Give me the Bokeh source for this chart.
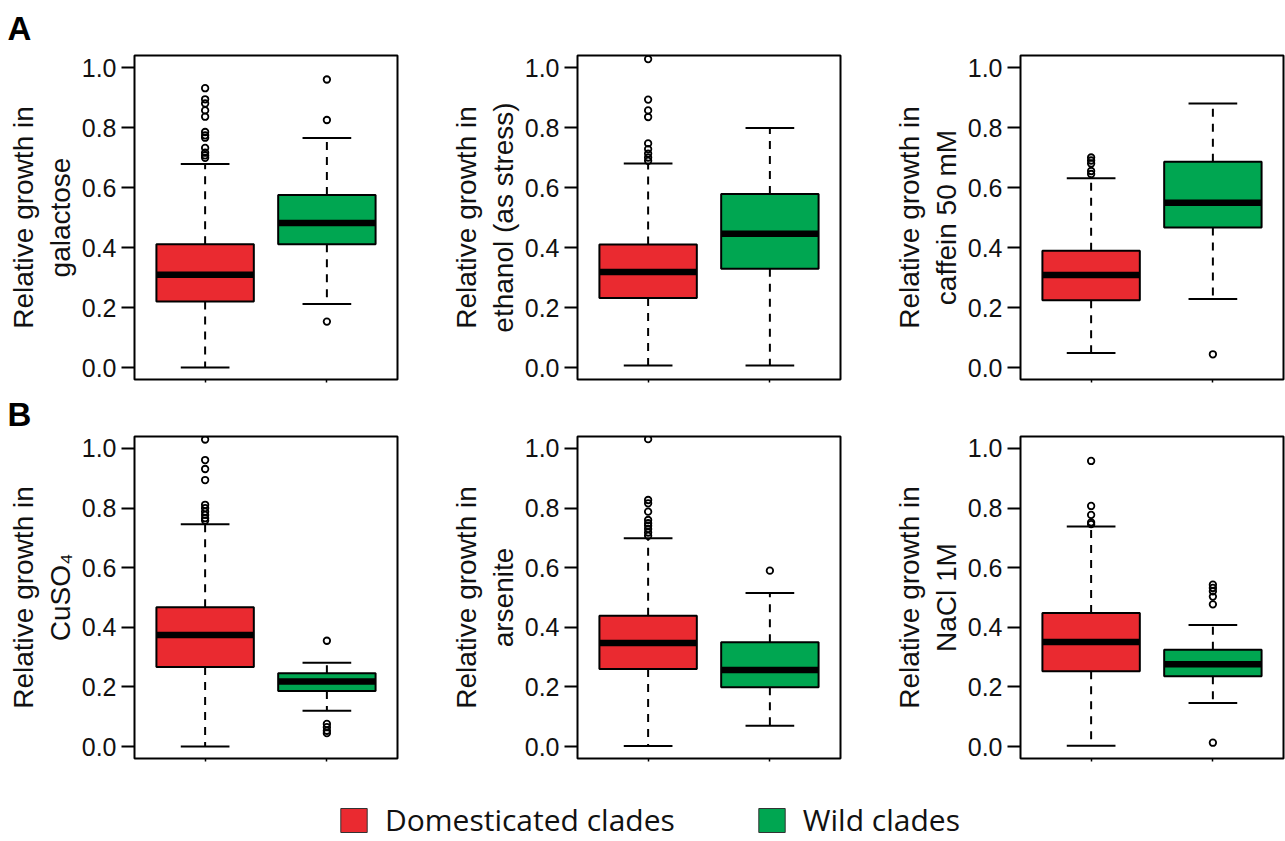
from bokeh.plotting import figure
from bokeh.layouts import column, row
from bokeh.models import (ColumnDataSource, Range1d, FixedTicker, PrintfTickFormatter,
                          Title, Legend, LegendItem)
from bokeh.embed import file_html
from bokeh.resources import INLINE

# ---------------- data ----------------
conditions = ["galactose", "ethanol (as stress)", "caffein 50 mM",
              "CuSO\u2084", "arsenite", "NaCl 1M"]
groups = ["Domesticated clades", "Wild clades"]
y_ticks = [0.0, 0.2, 0.4, 0.6, 0.8, 1.0]

dom_q1 = [0.220, 0.232, 0.224, 0.267, 0.260, 0.253]
dom_median = [0.309, 0.318, 0.308, 0.374, 0.347, 0.351]
dom_q3 = [0.411, 0.410, 0.389, 0.467, 0.439, 0.448]
dom_lower = [0.000, 0.007, 0.048, 0.000, 0.002, 0.003]
dom_upper = [0.678, 0.680, 0.631, 0.746, 0.699, 0.738]
dom_outliers = [
    [0.931, 0.894, 0.880, 0.857, 0.836, 0.785, 0.774, 0.766, 0.732, 0.716, 0.707, 0.699],
    [1.028, 0.893, 0.857, 0.835, 0.747, 0.728, 0.713, 0.700, 0.689],
    [0.700, 0.690, 0.680, 0.655, 0.645],
    [1.030, 0.961, 0.931, 0.894, 0.811, 0.800, 0.788, 0.777, 0.766, 0.758],
    [1.031, 0.827, 0.816, 0.788, 0.760, 0.749, 0.741, 0.730, 0.718, 0.707],
    [0.958, 0.807, 0.777, 0.752, 0.746],
]

wild_q1 = [0.411, 0.329, 0.467, 0.186, 0.199, 0.236]
wild_median = [0.482, 0.446, 0.549, 0.218, 0.257, 0.276]
wild_q3 = [0.575, 0.578, 0.686, 0.246, 0.350, 0.325]
wild_lower = [0.212, 0.007, 0.228, 0.120, 0.070, 0.146]
wild_upper = [0.765, 0.798, 0.880, 0.281, 0.515, 0.408]
wild_outliers = [
    [0.960, 0.825, 0.153],
    [],
    [0.044],
    [0.355, 0.076, 0.065, 0.053, 0.045],
    [0.590],
    [0.543, 0.532, 0.521, 0.503, 0.477, 0.013],
]

# ---------------- styling ----------------
RED = "#EA2A30"
GREEN = "#00A651"
group_colors = [RED, GREEN]
AX_FONT = "Liberation Sans"
FRAME_W = 263
FRAME_H = 324
LEFT_B = 134
BOX_W = 0.8
CAP_W = 0.4


def make_panel(i, width, top_border, letter=None, letter_standoff=10):
    right_b = width - LEFT_B - FRAME_W
    height = top_border + FRAME_H + 15
    p = figure(width=width, height=height,
               x_range=Range1d(0.42, 2.58), y_range=Range1d(-0.04, 1.04),
               output_backend="svg", toolbar_location=None,
               min_border_left=LEFT_B, min_border_right=right_b,
               min_border_top=top_border, min_border_bottom=15)
    p.grid.visible = False
    p.outline_line_color = "black"
    p.outline_line_width = 2
    p.background_fill_color = "white"
    p.border_fill_color = "white"

    xs = [k + 1 for k in range(len(groups))]
    q1 = [dom_q1[i], wild_q1[i]]
    med = [dom_median[i], wild_median[i]]
    q3 = [dom_q3[i], wild_q3[i]]
    lo = [dom_lower[i], wild_lower[i]]
    hi = [dom_upper[i], wild_upper[i]]
    src = ColumnDataSource(dict(
        x=xs, q1=q1, q3=q3, med=med, lo=lo, hi=hi, color=group_colors,
        bl=[x - BOX_W / 2 for x in xs], br=[x + BOX_W / 2 for x in xs],
        cl=[x - CAP_W / 2 for x in xs], cr=[x + CAP_W / 2 for x in xs],
    ))

    # dashed whiskers
    p.segment(x0="x", y0="q3", x1="x", y1="hi", source=src,
              line_color="black", line_width=2, line_dash="8 7")
    p.segment(x0="x", y0="q1", x1="x", y1="lo", source=src,
              line_color="black", line_width=2, line_dash="8 7")
    # boxes
    p.vbar(x="x", width=BOX_W, bottom="q1", top="q3", source=src,
           fill_color="color", line_color="black", line_width=2)
    # medians
    p.segment(x0="bl", y0="med", x1="br", y1="med", source=src,
              line_color="black", line_width=6.5)
    # caps
    p.segment(x0="cl", y0="hi", x1="cr", y1="hi", source=src,
              line_color="black", line_width=2)
    p.segment(x0="cl", y0="lo", x1="cr", y1="lo", source=src,
              line_color="black", line_width=2)
    # outliers
    ox, oy = [], []
    for k, outs in enumerate([dom_outliers[i], wild_outliers[i]]):
        ox += [xs[k]] * len(outs)
        oy += outs
    p.scatter(x=ox, y=oy, marker="circle", size=6.5, fill_color=None,
              line_color="black", line_width=1.8)

    # y axis
    ya = p.yaxis[0]
    ya.ticker = FixedTicker(ticks=y_ticks)
    ya.formatter = PrintfTickFormatter(format="%.1f")
    ya.minor_tick_line_color = None
    ya.major_tick_in = 0
    ya.major_tick_out = 13
    ya.major_tick_line_width = 2
    ya.major_tick_line_color = "black"
    ya.axis_line_color = None
    ya.major_label_standoff = 5
    ya.major_label_text_font = AX_FONT
    ya.major_label_text_font_size = "25px"
    ya.major_label_text_color = "#111111"
    ya.axis_label = "Relative growth in\n" + conditions[i]
    ya.axis_label_text_font = AX_FONT
    ya.axis_label_text_font_size = "28px"
    ya.axis_label_text_font_style = "normal"
    ya.axis_label_text_color = "#111111"
    ya.axis_label_standoff = 3

    # x axis: only short ticks under the boxes
    xa = p.xaxis[0]
    xa.ticker = FixedTicker(ticks=xs)
    xa.major_label_overrides = {x: "" for x in xs}
    xa.major_label_text_font_size = "1px"
    xa.minor_tick_line_color = None
    xa.major_tick_in = 0
    xa.major_tick_out = 3
    xa.major_tick_line_width = 1.5
    xa.axis_line_color = None
    xa.major_label_standoff = 0

    if letter:
        p.title = Title(text=letter, align="left", vertical_align="top",
                        offset=-127, standoff=letter_standoff,
                        text_font=AX_FONT, text_font_size="33px",
                        text_font_style="bold", text_color="black")
    return p


widths = [443, 443, 399]
row1 = [make_panel(k, widths[k], 55, "A" if k == 0 else None, 14) for k in range(3)]
row2 = [make_panel(k + 3, widths[k], 40, "B" if k == 0 else None, 3) for k in range(3)]

# legend strip
lg = figure(width=1285, height=68, x_range=Range1d(0, 1), y_range=Range1d(0, 1),
            x_axis_type=None, y_axis_type=None, output_backend="svg",
            toolbar_location=None, min_border=0, outline_line_color=None)
lg.grid.visible = False
items = []
for g, c in zip(groups, group_colors):
    # legend proxies: kept outside the visible range, only their swatches show
    r = lg.quad(left=[2], right=[3], top=[3], bottom=[2], fill_color=c,
                line_color="#333333", line_width=1)
    items.append(LegendItem(label=g, renderers=[r]))
legend = Legend(items=items, orientation="horizontal", location=(337, 1),
                glyph_width=33, glyph_height=30, label_height=30,
                label_text_font="Open Sans", label_text_font_size="30px",
                label_text_color="#111111", label_standoff=15, spacing=80,
                padding=0, margin=0, border_line_color=None,
                background_fill_alpha=0)
lg.add_layout(legend)

layout = column(row(*row1), row(*row2), lg)
open("out.html", "w").write(file_html(layout, INLINE))
